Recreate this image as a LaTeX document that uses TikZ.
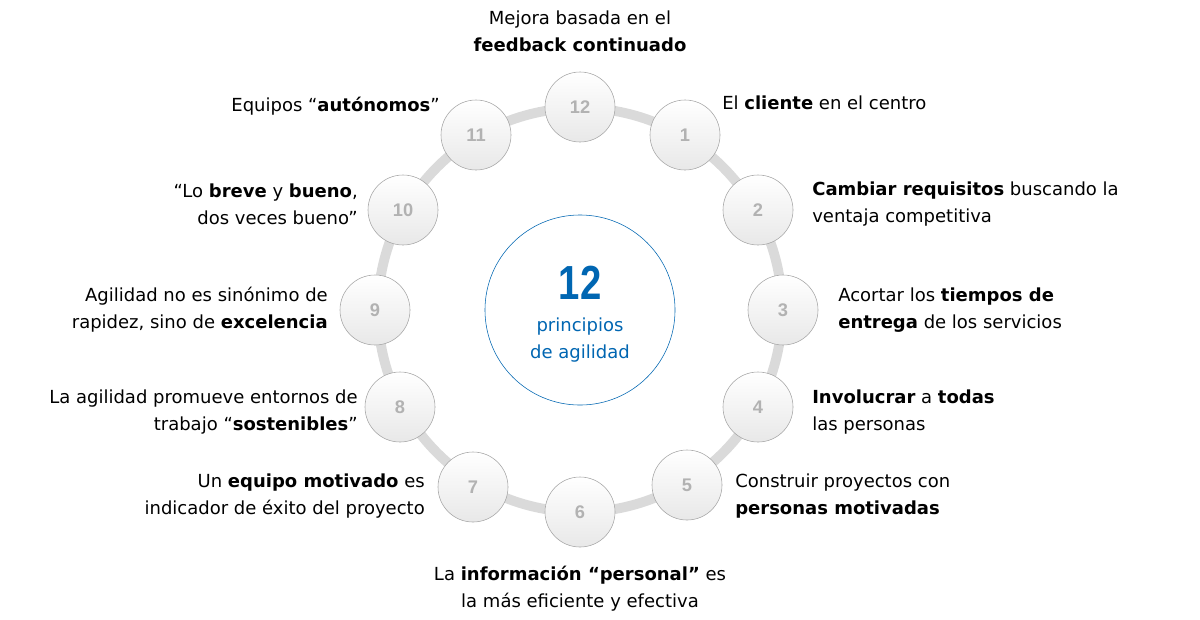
\documentclass[tikz,border=0pt]{standalone}
\usepackage{fontspec}
\setmainfont{DejaVu Sans}
\newfontfamily\numfont{Liberation Sans}
\usetikzlibrary{positioning}
\definecolor{agblue}{RGB}{0,102,178}
\definecolor{ringgray}{RGB}{218,218,218}
\tikzstyle{numcircle} = [circle, minimum size=1.75cm, draw=gray!70, top color=white, bottom color=gray!18, text=gray!60, font=\numfont\bfseries\fontsize{13}{13}\selectfont, inner sep=0pt]
\tikzstyle{label} = [font=\fontsize{12.8}{19}\selectfont, inner sep=0pt, text=black]
\begin{document}
\begin{tikzpicture}[x=0.025cm, y=-0.025cm]
  \useasboundingbox (0,0) rectangle (1200,619);
  % Ring
  \draw[ringgray, line width=7pt] (580,310) circle (5.05cm);
  % Centre
  \node[circle, minimum size=4.75cm, draw=agblue, fill=white, thin] (centre) at (580,310) {};
  \node[text=agblue, font=\numfont\bfseries\fontsize{34}{34}\selectfont, xscale=0.8] (twelve) at (580,283) {12};
  \node[text=agblue, font=\fontsize{12.8}{19}\selectfont, align=center] (title) at (580,340) {principios\\de agilidad};
  % Numbered circles
  \foreach \n/\x/\y in {12/580/107, 1/685/135, 2/758/210, 3/783/310, 4/758/407, 5/687/485,
      6/580/512, 7/473/487, 8/400/407, 9/375/310, 10/403/210, 11/476/135}
    \node[numcircle] (c\n) at (\x,\y) {\n};
  % Labels
  \node[label, align=center] (t12) at (580,31) {Mejora basada en el\\\textbf{feedback continuado}};
  \node[label, anchor=west] (t1) at (722,103) {El \textbf{cliente} en el centro};
  \node[label, anchor=west, align=left] (t2) at (812,204) {\textbf{Cambiar requisitos} buscando la\\ventaja competitiva};
  \node[label, anchor=west, align=left] (t3) at (838,310) {Acortar los \textbf{tiempos de}\\\textbf{entrega} de los servicios};
  \node[label, anchor=west, align=left] (t4) at (812,412) {\textbf{Involucrar} a \textbf{todas}\\las personas};
  \node[label, anchor=west, align=left] (t5) at (735,496) {Construir proyectos con\\\textbf{personas motivadas}};
  \node[label, align=center] (t6) at (580,589) {La \textbf{información “personal”} es\\la más eficiente y efectiva};
  \node[label, anchor=east, align=right] (t7) at (425,496) {Un \textbf{equipo motivado} es\\indicador de éxito del proyecto};
  \node[label, anchor=east, align=right] (t8) at (358,412) {La agilidad promueve entornos de\\trabajo “\textbf{sostenibles}”};
  \node[label, anchor=east, align=right] (t9) at (328,310) {Agilidad no es sinónimo de\\rapidez, sino de \textbf{excelencia}};
  \node[label, anchor=east, align=right] (t10) at (358,204) {“Lo \textbf{breve} y \textbf{bueno},\\dos veces bueno”};
  \node[label, anchor=east] (t11) at (440,106) {Equipos “\textbf{autónomos}”};
\end{tikzpicture}
\end{document}
